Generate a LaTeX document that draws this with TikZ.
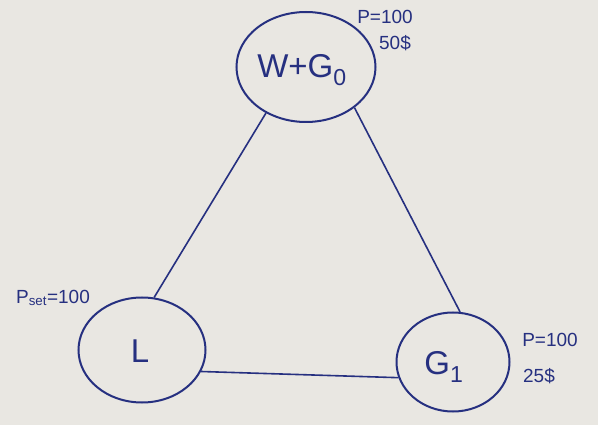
\documentclass[tikz,border=0pt]{standalone}
\usepackage{fontspec}
\setmainfont{Liberation Sans}
\usetikzlibrary{shapes.geometric}
\definecolor{paper}{RGB}{233,231,226}
\definecolor{ink}{RGB}{38,48,128}
\tikzset{
  bubble/.style={draw=ink, line width=2pt, ellipse, inner sep=0pt},
  conn/.style={draw=ink, line width=1.6pt},
  big/.style={text=ink, font=\fontsize{33}{37}\selectfont},
  note/.style={text=ink, font=\fontsize{19}{21}\selectfont, inner sep=0pt},
}
\begin{document}
\begin{tikzpicture}[x=1pt,y=-1pt]
\fill[paper] (0,0) rectangle (598,425);
\useasboundingbox (0,0) rectangle (598,425);
\node[bubble, minimum width=139pt, minimum height=110pt] (w) at (306,67) {};
\node[bubble, minimum width=127pt, minimum height=105pt] (l) at (142,350) {};
\node[bubble, minimum width=113pt, minimum height=99pt] (g) at (453,362) {};
\node[big] (wt) at (302,70) {W+G\textsubscript{0}};
\node[big] (lt) at (140,351) {L};
\node[big] (gt) at (444,367) {G\textsubscript{1}};
\node[note] (wp) at (385,17) {P=100};
\node[note] (wc) at (395,43) {50\$};
\node[note] (lp) at (53,298) {P\textsubscript{set}=100};
\node[note] (gp) at (550,340) {P=100};
\node[note] (gc) at (539,376) {25\$};
\draw[conn] (w.229) -- (l.77);
\draw[conn] (w.-40) -- (g.82);
\draw[conn] (l.-20) -- (g.196);
\end{tikzpicture}
\end{document}
